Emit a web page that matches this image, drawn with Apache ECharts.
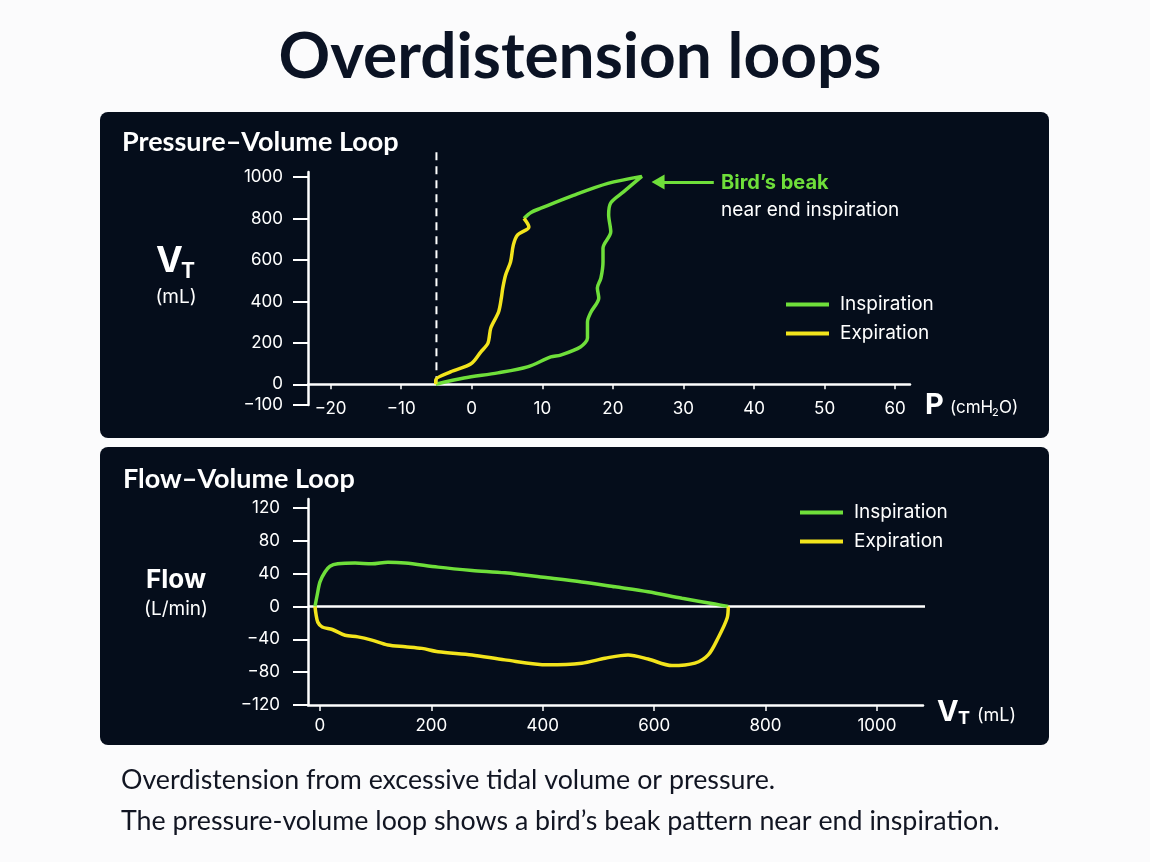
<!DOCTYPE html>
<html>
<head>
	<meta charset="utf-8" />
	<script src="https://cdn.jsdelivr.net/npm/echarts@6/dist/echarts.min.js"></script>
</head>
<title>Overdistension loops</title>
<body style="margin: 0; background-color: #fbfbfc">
	<div id="main" style="width: 1150px; height: 862px;"></div>
</body>
<script type="text/javascript">
	// pressure-volume loop (P in cmH2O, V in mL)
	var pvInspP = [-5.1, -1.1, 3.7, 7.9, 11.2, 12.6, 15.4, 16.4, 16.4, 16.9, 18.0, 17.8, 18.3, 18.6, 18.6, 19.7, 19.4, 19.7, 21.5, 24.1, 19.3, 14.4, 9.8, 8.4, 7.4];
	var pvInspV = [0, 30, 55, 84, 132, 141, 180, 224, 301, 349, 417, 465, 513, 591, 658, 736, 818, 876, 929, 1004, 970, 912, 850, 830, 801];
	var pvExpP = [7.4, 8.1, 6.5, 5.9, 5.5, 4.8, 4.4, 4.2, 3.8, 2.7, 2.3, 1.3, -0.1, -3.0, -5.1, -5.1];
	var pvExpV = [801, 760, 721, 673, 591, 528, 465, 417, 349, 272, 199, 157, 99, 60, 21, 0];
	var pvStartP = -5;
	var pvDashTop = 1141;
	var pvPTicks = [-20, -10, 0, 10, 20, 30, 40, 50, 60];
	var pvVTicks = [-100, 0, 200, 400, 600, 800, 1000];

	// flow-volume loop (V in mL, flow in L/min)
	var fvInspV = [-9, -5, 0, 9, 18, 32, 63, 93, 122, 153, 212, 273, 332, 409, 470, 530, 589, 650, 709, 733];
	var fvInspF = [0, 14, 30, 42, 49, 52, 53, 52, 54, 53, 48, 44, 41, 35, 30, 24, 18, 10, 3, 0];
	var fvExpV = [-9, -7, -4, 4, 22, 45, 68, 93, 122, 153, 183, 212, 273, 332, 409, 470, 512, 553, 589, 632, 673, 697, 715, 731, 733];
	var fvExpF = [0, -10, -19, -25, -28, -35, -37, -41, -47, -49, -51, -55, -59, -65, -71, -69, -63, -59, -64, -72, -69, -59, -38, -14, 0];
	var fvZeroEnd = 1176;
	var fvVTicks = [0, 200, 400, 600, 800, 1000];
	var fvFTicks = [-120, -80, -40, 0, 40, 80, 120];

	var green = '#6fdf3a';
	var yellow = '#f3e41c';
	var panel = '#050d1b';
	var font = 'Inter';

	function zip(a, b) {
		return a.map(function (v, i) { return [v, b[i]]; });
	}
	function minus(v) {
		return String(v).replace('-', '\u2212');
	}

	function axisX(grid, min, max, ticks, onZero, tickLen, margin) {
		return {
			type: 'value', gridIndex: grid, min: min, max: max,
			axisLine: { onZero: onZero, lineStyle: { color: '#ffffff', width: 2.5 } },
			axisTick: { show: true, length: tickLen, customValues: ticks, lineStyle: { color: '#ffffff', width: 1.5 } },
			axisLabel: { customValues: ticks, color: '#ffffff', fontSize: 17, fontFamily: font, margin: margin, formatter: minus },
			splitLine: { show: false }
		};
	}
	function axisY(grid, min, max, ticks, margin) {
		return {
			type: 'value', gridIndex: grid, min: min, max: max,
			axisLine: { show: true, onZero: false, lineStyle: { color: '#ffffff', width: 2.5 } },
			axisTick: { show: true, length: 15, customValues: ticks, lineStyle: { color: '#ffffff', width: 2 } },
			axisLabel: { customValues: ticks, color: '#ffffff', fontSize: 17, fontFamily: font, margin: margin, formatter: minus },
			splitLine: { show: false }
		};
	}
	function loop(name, grid, data, color) {
		return {
			name: name, type: 'line', xAxisIndex: grid, yAxisIndex: grid,
			data: data, smooth: 0.3, symbol: 'none', color: color,
			lineStyle: { color: color, width: 3.5 }, z: 3
		};
	}
	function text(x, y, str, size, weight, color, align, family) {
		return {
			type: 'text', x: x, y: y, z: 10,
			style: { text: str, fill: color, fontSize: size, fontWeight: weight, fontFamily: family || font, align: align || 'left', verticalAlign: 'middle' }
		};
	}

	var myChart = echarts.init(document.getElementById('main'));

	var inspPV = loop('Inspiration', 0, zip(pvInspP, pvInspV), green);
	inspPV.markLine = {
		silent: true, animation: false,
		symbol: ['none', 'triangle'], symbolSize: [15, 13],
		label: { show: false },
		lineStyle: { color: green, width: 3, type: 'solid' },
		data: [[{ coord: [34.3, 977] }, { coord: [26.4, 977] }]]
	};

	option = {
		animation: false,
		backgroundColor: '#fbfbfc',
		grid: [
			{ left: 308, top: 172, width: 602, height: 233 },
			{ left: 308, top: 499, width: 615, height: 206 }
		],
		xAxis: [
			axisX(0, -23.2, 62.1, pvPTicks, true, 5, -5),
			axisX(1, -21.5, 1082.6, fvVTicks, false, 6, 12)
		],
		yAxis: [
			axisY(0, -100, 1025, pvVTicks, 25),
			axisY(1, -120, 131, fvFTicks, 28)
		],
		legend: [
			{ orient: 'vertical', left: 781, top: 290, itemWidth: 43, itemHeight: 4, itemGap: 10, icon: 'rect',
				textStyle: { color: '#ffffff', fontSize: 19, fontFamily: font, padding: [0, 0, 0, 6] },
				data: ['Inspiration', 'Expiration'], selectedMode: false },
			{ orient: 'vertical', left: 795, top: 498, itemWidth: 43, itemHeight: 4, itemGap: 10, icon: 'rect',
				textStyle: { color: '#ffffff', fontSize: 19, fontFamily: font, padding: [0, 0, 0, 6] },
				data: ['Inspiration', 'Expiration'], selectedMode: false }
		],
		graphic: [
			{ type: 'rect', shape: { x: 100, y: 112, width: 949, height: 326, r: 8 }, style: { fill: panel }, z: 0 },
			{ type: 'rect', shape: { x: 100, y: 447, width: 949, height: 298, r: 8 }, style: { fill: panel }, z: 0 },
			text(580, 57, 'Overdistension loops', 64, 700, '#0b1324', 'center', 'Lato'),
			text(122, 142, 'Pressure\u2013Volume Loop', 27, 700, '#ffffff', 'left', 'Lato'),
			text(123, 479, 'Flow\u2013Volume Loop', 27, 700, '#ffffff', 'left', 'Lato'),
			text(156, 261, 'V', 36, 700, '#ffffff'),
			text(181, 272, 'T', 21, 700, '#ffffff'),
			text(176, 297, '(mL)', 19, 400, '#ffffff', 'center'),
			text(176, 580, 'Flow', 26, 700, '#ffffff', 'center'),
			text(176, 609, '(L/min)', 19, 400, '#ffffff', 'center'),
			text(925, 405, 'P', 29, 700, '#ffffff'),
			text(950, 408, '(cmH', 17, 400, '#ffffff'),
			text(992, 413, '2', 11, 400, '#ffffff'),
			text(999, 408, 'O)', 17, 400, '#ffffff'),
			text(937, 712, 'V', 29, 700, '#ffffff'),
			text(958, 719, 'T', 18, 700, '#ffffff'),
			text(977, 716, '(mL)', 18, 400, '#ffffff'),
			text(721, 183, 'Bird\u2019s beak', 20, 700, green),
			text(721, 210, 'near end inspiration', 19, 400, '#ffffff'),
			text(121, 780, 'Overdistension from excessive tidal volume or pressure.', 26.8, 400, '#111522', 'left', 'Lato'),
			text(121, 821, 'The pressure-volume loop shows a bird\u2019s beak pattern near end inspiration.', 26.8, 400, '#111522', 'left', 'Lato')
		],
		series: [
			{ name: 'end-expiratory', type: 'line', xAxisIndex: 0, yAxisIndex: 0, clip: false, symbol: 'none', z: 2,
				data: [[pvStartP, 0], [pvStartP, pvDashTop]],
				lineStyle: { color: '#ffffff', width: 2, type: [8, 6] } },
			inspPV,
			loop('Expiration', 0, zip(pvExpP, pvExpV), yellow),
			{ name: 'zero flow', type: 'line', xAxisIndex: 1, yAxisIndex: 1, clip: false, symbol: 'none', z: 2,
				data: [[-21.5, 0], [fvZeroEnd, 0]],
				lineStyle: { color: '#ffffff', width: 2.5 } },
			loop('Inspiration', 1, zip(fvInspV, fvInspF), green),
			loop('Expiration', 1, zip(fvExpV, fvExpF), yellow)
		]
	};

	myChart.setOption(option);
</script>
</html>
